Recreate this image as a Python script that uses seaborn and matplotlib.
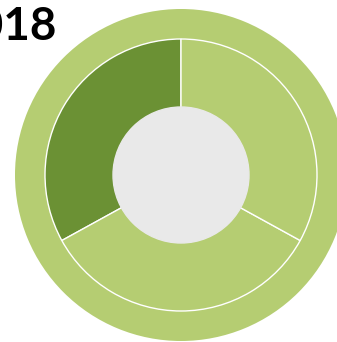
import matplotlib
matplotlib.use("Agg")
import matplotlib.pyplot as plt
import seaborn as sns

sns.set_theme(style="white")
plt.rcParams['font.family'] = ['Lato', 'DejaVu Sans']

# Data
year_label = "2018"
categories = ["A", "B", "C"]
values = [33, 34, 33]
slice_colors = ["#6b9134", "#b5cd72", "#b5cd72"]
ring_color = "#b5cd72"
hole_color = "#e9e9e9"

W, H = 337, 342
fig = plt.figure(figsize=(W / 100, H / 100), dpi=100)
ax = fig.add_axes([0, 0, 1, 1])
ax.set_xlim(0, W)
ax.set_ylim(0, H)
ax.set_aspect("equal")
ax.axis("off")

cx, cy = 181, H - 175

# outer ring
ax.pie([1], colors=[ring_color], radius=166, center=(cx, cy),
       wedgeprops=dict(linewidth=0), frame=True)
# inner pie
ax.pie(values, colors=slice_colors, radius=136, center=(cx, cy),
       startangle=90, counterclock=True,
       wedgeprops=dict(edgecolor="white", linewidth=1.0), frame=True)
# hole
ax.add_patch(plt.Circle((cx, cy), 68, color=hole_color, zorder=5))

ax.set_xlim(0, W)
ax.set_ylim(0, H)
ax.axis("off")

ax.text(57, H - 27, year_label, ha="right", va="center", fontsize=33,
        fontweight="bold", color="black", zorder=10)

fig.savefig("out.png", dpi=100)
